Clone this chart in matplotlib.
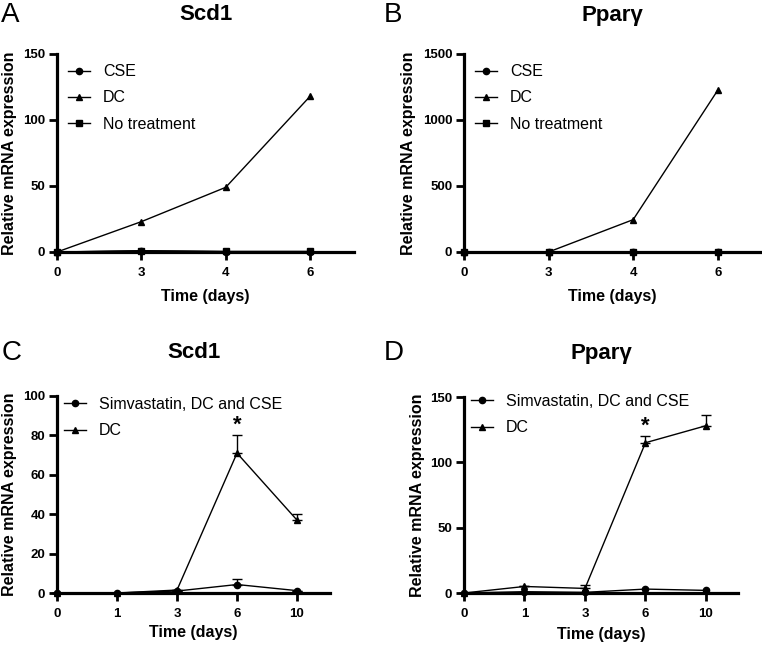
import numpy as np
import matplotlib
matplotlib.use("Agg")
import matplotlib.pyplot as plt

plt.rcParams['font.family'] = ['Liberation Sans', 'DejaVu Sans']

# panels A and B
days_ab = ['0', '3', '4', '6']
scd1_cse = [0, 0.8, 0.3, 0.3]
scd1_dc = [0, 23, 49, 118]
scd1_none = [0, 1.0, 0.4, 0.4]
ppar_cse = [0, 0, 0, 0]
ppar_dc = [0, 0, 245, 1225]
ppar_none = [0, 0, 0, 0]

# panels C and D
days_cd = ['0', '1', '3', '6', '10']
scd1_simva = [0, 0, 1.0, 4.3, 1.2]
scd1_simva_err = [0, 0, 0, 2.6, 0]
scd1_dc2 = [0, 0, 1.5, 71, 37]
scd1_dc2_err = [0, 0, 0, 9, 3]
ppar_simva = [0, 1.0, 0.5, 3.0, 2.0]
ppar_simva_err = [0, 0, 0, 0, 0]
ppar_dc2 = [0, 5.0, 3.5, 115, 128]
ppar_dc2_err = [0, 0, 3, 5, 8]

W, H = 762, 648
fig = plt.figure(figsize=(W / 100, H / 100), dpi=100)


def px_axes(l, r, top, bot):
    return fig.add_axes([l / W, 1 - bot / H, (r - l) / W, (bot - top) / H])


def style(ax, labels, xmax, ymax, yticks):
    ax.set_xlim(0, xmax)
    ax.set_ylim(0, ymax)
    ax.set_xticks(range(len(labels)))
    ax.set_xticklabels(labels)
    ax.set_yticks(yticks)
    for s in ['top', 'right']:
        ax.spines[s].set_visible(False)
    for s in ['left', 'bottom']:
        ax.spines[s].set_linewidth(2.3)
        ax.spines[s].set_zorder(1)
    ax.tick_params(width=2.0, length=5.5, labelsize=9.5, pad=3)
    ax.tick_params(axis='x', pad=5)
    for t in ax.get_xticklabels() + ax.get_yticklabels():
        t.set_fontweight('bold')
    ax.patch.set_visible(False)


def series(ax, y, marker, label, err=None, ms=4.5):
    x = np.arange(len(y))
    if err is not None and any(e > 0 for e in err):
        ax.errorbar(x, y, yerr=[np.zeros(len(err)), err], fmt='none', ecolor='black',
                    elinewidth=1, capsize=3.5, capthick=1, clip_on=False, zorder=3)
    ax.plot(x, y, color='black', lw=1, marker=marker, ms=ms, label=label,
            clip_on=False, zorder=4)


def legend(ax, x, y):
    ax.legend(loc='upper left', bbox_to_anchor=(x, y), frameon=False, fontsize=11.5,
              handlelength=1.4, handletextpad=0.8, labelspacing=0.7,
              borderaxespad=0, borderpad=0)


def labels(ax, title, letter, ty, lx, ylx, xly):
    bb = ax.get_position()
    cx = (bb.x0 + bb.x1) / 2
    fig.text(cx, 1 - ty / H, title, ha='center', va='center', fontsize=16, fontweight='bold')
    fig.text(lx / W, 1 - ty / H, letter, ha='left', va='center', fontsize=20)
    fig.text(ylx / W, (bb.y0 + bb.y1) / 2, 'Relative mRNA expression', rotation=90,
             ha='center', va='center', fontsize=11.5, fontweight='bold')
    fig.text(cx, 1 - xly / H, 'Time (days)', ha='center', va='center',
             fontsize=11.5, fontweight='bold')


# A
axA = px_axes(57, 354, 54, 252)
series(axA, scd1_cse, 'o', 'CSE')
series(axA, scd1_dc, '^', 'DC')
series(axA, scd1_none, 's', 'No treatment')
style(axA, days_ab, 3.52, 150, [0, 50, 100, 150])
legend(axA, 0.037, 0.948)
labels(axA, 'Scd1', 'A', 15, 1, 10, 297)

# B
axB = px_axes(464, 760, 54, 252)
series(axB, ppar_cse, 'o', 'CSE')
series(axB, ppar_dc, '^', 'DC')
series(axB, ppar_none, 's', 'No treatment')
style(axB, days_ab, 3.5, 1500, [0, 500, 1000, 1500])
legend(axB, 0.037, 0.948)
labels(axB, 'Ppar\u03b3', 'B', 15, 384, 409, 297)

# C
axC = px_axes(57, 330, 396, 593)
series(axC, scd1_simva, 'o', 'Simvastatin, DC and CSE', scd1_simva_err)
series(axC, scd1_dc2, '^', 'DC', scd1_dc2_err)
style(axC, days_cd, 4.55, 100, [0, 20, 40, 60, 80, 100])
legend(axC, 0.025, 0.995)
axC.text(3, 85, '*', ha='center', va='center', fontsize=16, fontweight='bold')
labels(axC, 'Scd1', 'C', 353, 2, 10, 632)

# D
axD = px_axes(464, 738, 397, 593)
series(axD, ppar_simva, 'o', 'Simvastatin, DC and CSE', ppar_simva_err)
series(axD, ppar_dc2, '^', 'DC', ppar_dc2_err)
style(axD, days_cd, 4.53, 150, [0, 50, 100, 150])
legend(axD, 0.025, 1.015)
axD.text(3, 128, '*', ha='center', va='center', fontsize=16, fontweight='bold')
labels(axD, 'Ppar\u03b3', 'D', 353, 384, 418, 635)

fig.savefig('out.png', dpi=100)
